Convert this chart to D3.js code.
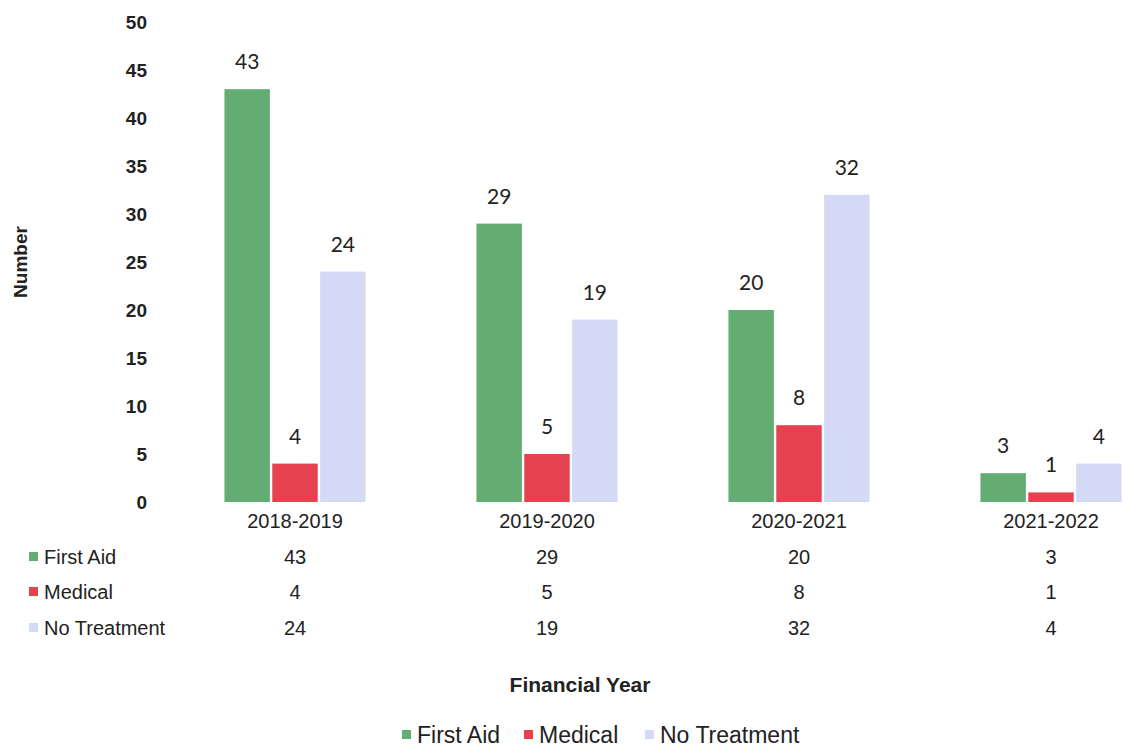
<!DOCTYPE html>
<html>
<head>
<meta charset="utf-8">
<script src="https://d3js.org/d3.v7.min.js"></script>
<style>
  body { margin: 0; background: #fff; }
  svg { display: block; }
  .narrow { font-family: "Liberation Sans Narrow", "Arial Narrow", "Liberation Sans", Arial, sans-serif; }
</style>
</head>
<body>
<div id="container"></div>
<script>
// data
const years = ['2018-2019', '2019-2020', '2020-2021', '2021-2022'];
const seriesNames = ['First Aid', 'Medical', 'No Treatment'];
const firstAid = [43, 29, 20, 3];
const medical = [4, 5, 8, 1];
const noTreatment = [24, 19, 32, 4];
const yTicks = [0, 5, 10, 15, 20, 25, 30, 35, 40, 45, 50];

const colors = ['#63ad73', '#e5414f', '#d4daf6'];
const values = [firstAid, medical, noTreatment];

const w = 1123, h = 749;

const svg = d3.select('#container').append('svg')
  .attr('width', w)
  .attr('height', h);

const x0 = d3.scaleBand()
  .domain(years)
  .range([169, 1177])
  .paddingInner(0.44)
  .paddingOuter(0.22);

const x1 = d3.scaleBand()
  .domain(seriesNames)
  .range([0, x0.bandwidth()])
  .paddingInner(0.05);

const y = d3.scaleLinear()
  .domain([0, 50])
  .range([502, 22]);

// y axis, labels only
const yAxis = d3.axisLeft(y).tickValues(yTicks).tickSize(0).tickPadding(0);
const gy = svg.append('g')
  .attr('transform', 'translate(147,0)')
  .call(yAxis);
gy.select('.domain').remove();
gy.selectAll('text')
  .attr('class', 'narrow')
  .style('font-size', '19px')
  .style('font-weight', 'bold')
  .attr('fill', '#222')
  .attr('dy', '0.35em');

svg.append('text')
  .attr('class', 'narrow')
  .attr('transform', 'translate(27,262) rotate(-90)')
  .attr('text-anchor', 'middle')
  .style('font-size', '19px')
  .style('font-weight', 'bold')
  .attr('fill', '#222')
  .text('Number');

// bars
const groups = svg.selectAll('g.year')
  .data(years)
  .enter()
  .append('g')
  .attr('class', 'year')
  .attr('transform', d => `translate(${x0(d)},0)`);

groups.selectAll('rect')
  .data((d, i) => seriesNames.map((s, j) => ({ s, v: values[j][i], c: colors[j] })))
  .enter()
  .append('rect')
  .attr('x', d => x1(d.s))
  .attr('y', d => y(d.v))
  .attr('width', x1.bandwidth())
  .attr('height', d => y(0) - y(d.v))
  .attr('fill', d => d.c);

groups.selectAll('text.val')
  .data((d, i) => seriesNames.map((s, j) => ({ s, v: values[j][i] })))
  .enter()
  .append('text')
  .attr('class', 'val')
  .attr('x', d => x1(d.s) + x1.bandwidth() / 2)
  .attr('y', d => y(d.v) - 20)
  .attr('text-anchor', 'middle')
  .style('font-family', 'Lato, "Open Sans", sans-serif')
  .style('font-size', '21px')
  .attr('fill', '#222')
  .text(d => d.v);

// category labels
const xAxis = d3.axisBottom(x0).tickSize(0).tickPadding(0);
const gx = svg.append('g')
  .attr('transform', `translate(0,${y(0)})`)
  .call(xAxis);
gx.select('.domain').remove();
gx.selectAll('text')
  .attr('class', 'narrow')
  .style('font-size', '20px')
  .attr('fill', '#222')
  .attr('dy', '1.3em');

// data table
const rowY = [557, 592, 628];
seriesNames.forEach((s, j) => {
  svg.append('rect')
    .attr('x', 29).attr('y', rowY[j] - 5)
    .attr('width', 9).attr('height', 9)
    .attr('fill', colors[j]);
  svg.append('text')
    .attr('class', 'narrow')
    .attr('x', 44).attr('y', rowY[j])
    .attr('dy', '0.35em')
    .style('font-size', '20px')
    .attr('fill', '#222')
    .text(s);
  svg.selectAll(null)
    .data(years)
    .enter()
    .append('text')
    .attr('class', 'narrow')
    .attr('x', d => x0(d) + x0.bandwidth() / 2)
    .attr('y', rowY[j])
    .attr('dy', '0.35em')
    .attr('text-anchor', 'middle')
    .style('font-size', '20px')
    .attr('fill', '#222')
    .text((d, i) => values[j][i]);
});

svg.append('text')
  .attr('class', 'narrow')
  .attr('x', 580).attr('y', 685)
  .attr('dy', '0.35em')
  .attr('text-anchor', 'middle')
  .style('font-size', '21px')
  .style('font-weight', 'bold')
  .attr('fill', '#222')
  .text('Financial Year');

// legend
const legendX = [402, 524, 645];
seriesNames.forEach((s, j) => {
  svg.append('rect')
    .attr('x', legendX[j]).attr('y', 730)
    .attr('width', 9).attr('height', 9)
    .attr('fill', colors[j]);
  svg.append('text')
    .attr('class', 'narrow')
    .attr('x', legendX[j] + 15).attr('y', 735)
    .attr('dy', '0.35em')
    .style('font-size', '23px')
    .attr('fill', '#222')
    .text(s);
});
</script>
</body>
</html>
